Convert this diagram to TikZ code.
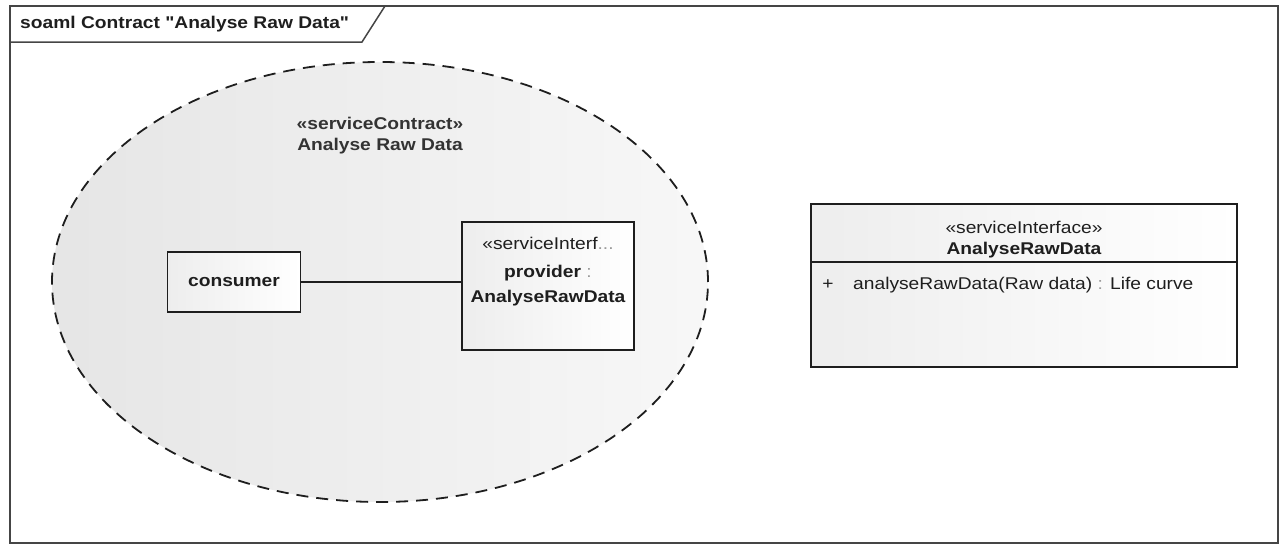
\documentclass[tikz,border=0pt]{standalone}
\usepackage{fontspec}
\setmainfont{Liberation Sans}[FakeStretch=1.13, Ligatures=TeXOff]
\usetikzlibrary{shapes.geometric}
\definecolor{framegray}{HTML}{454545}
\definecolor{ink}{HTML}{1E1E1E}
\definecolor{softink}{HTML}{333333}
\definecolor{faint}{HTML}{9A9A9A}
\begin{document}
\begin{tikzpicture}[x=1pt,y=-1pt,
  font=\fontsize{17}{20}\selectfont, text=ink,
  umlbox/.style={rectangle, draw=ink, line width=1.6pt, inner sep=0pt,
    left color=black!7, right color=white},
  label/.style={inner sep=0pt},
  boldlabel/.style={inner sep=0pt, font=\fontsize{17}{20}\selectfont\bfseries},
  contractshape/.style={ellipse, draw=ink, line width=1.8pt,
    dash pattern=on 12pt off 8pt, left color=black!10, right color=black!3,
    minimum width=656pt, minimum height=440pt, inner sep=0pt}]
\useasboundingbox (0,0) rectangle (1283,546);

% diagram frame with its name tab
\draw[framegray, line width=1.5pt] (10,6) rectangle (1278,543);
\draw[framegray, line width=1.5pt] (10,42) -- (362,42) -- (385,6);
\node[boldlabel, anchor=west] (frametitle) at (20,24) {soaml Contract "Analyse Raw Data"};

% service contract collaboration
\node[contractshape] (contract) at (380,282) {};
\node[boldlabel, text=softink] (ctstereo) at (380,123) {«serviceContract»};
\node[boldlabel, text=softink] (ctname) at (380,146) {Analyse Raw Data};

% roles inside the contract
\node[umlbox, minimum width=133pt, minimum height=60pt,
      font=\fontsize{17}{20}\selectfont\bfseries] (consumer) at (234,282) {consumer};
\node[umlbox, minimum width=172pt, minimum height=128pt] (provider) at (548,286) {};
\node[label] (provstereo) at (548,243) {«serviceInterf\textcolor{faint}{...}};
\node[label] (provname) at (548,273) {\textbf{provider} \textcolor{faint}{:}};
\node[boldlabel] (provtype) at (548,298) {AnalyseRawData};

\draw[ink, line width=1.4pt] (consumer.east) -- (consumer.east -| provider.west);

% service interface class
\node[umlbox, minimum width=426pt, minimum height=163pt] (iface) at (1024,285.5) {};
\draw[ink, line width=1.6pt] ([yshift=-59pt]iface.north west) -- ([yshift=-59pt]iface.north east);
\node[label] (ifstereo) at (1024,227) {«serviceInterface»};
\node[boldlabel] (ifname) at (1024,250) {AnalyseRawData};
\node[label] (opvis) at (828,285) {+};
\node[label, anchor=west] (opsig) at (853,285) {analyseRawData(Raw data) \textcolor{faint}{:} Life curve};
\end{tikzpicture}
\end{document}
